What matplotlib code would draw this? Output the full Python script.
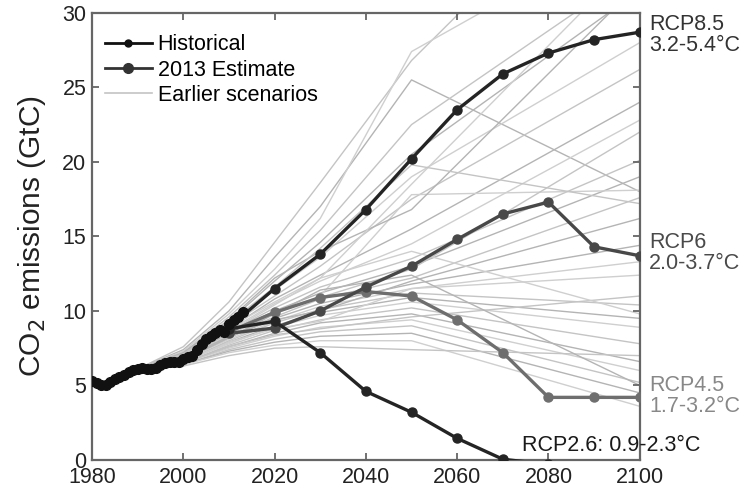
import numpy as np
import matplotlib.pyplot as plt
from matplotlib.lines import Line2D

plt.rcParams['font.family'] = ['Liberation Sans', 'DejaVu Sans']

# historical emissions, 1980-2012 (GtC)
hist_years = list(range(1980, 2013))
hist_vals = [5.3, 5.15, 5.05, 5.05, 5.25, 5.4, 5.55, 5.7, 5.9, 6.05,
             6.1, 6.15, 6.1, 6.1, 6.2, 6.35, 6.5, 6.6, 6.6, 6.6,
             6.8, 6.9, 7.0, 7.4, 7.8, 8.1, 8.3, 8.5, 8.7, 8.6,
             9.1, 9.4, 9.6]
est_year = 2013
est_val = 9.9

# RCP pathways
rcp_years = [2010, 2020, 2030, 2040, 2050, 2060, 2070, 2080, 2090, 2100]
rcp85 = [8.9, 11.5, 13.8, 16.8, 20.2, 23.5, 25.9, 27.3, 28.2, 28.7]
rcp6 = [8.5, 8.85, 10.0, 11.6, 13.0, 14.8, 16.5, 17.3, 14.3, 13.7]
rcp45 = [8.6, 9.9, 10.9, 11.3, 11.0, 9.4, 7.2, 4.2, 4.2, 4.2]
rcp26 = [8.8, 9.3, 7.2, 4.6, 3.2, 1.45, 0.05, -0.3, -0.6, -0.9]

# earlier scenarios
sc_years = [1990, 2000, 2010, 2020, 2030, 2050, 2100]
scenarios = [
    [6.1, 7.6, 10.6, 14.6, 18.6, 26.8, 42.0],
    [6.1, 7.4, 10.0, 13.6, 17.0, 25.5, 18.0],
    [6.1, 7.3, 9.8, 12.8, 16.2, 27.4, 36.0],
    [6.1, 7.2, 9.6, 12.4, 15.4, 22.5, 33.0],
    [6.1, 7.1, 9.3, 12.0, 14.6, 20.5, 31.5],
    [6.1, 7.0, 9.1, 11.4, 13.6, 19.0, 28.0],
    [6.1, 7.0, 9.0, 11.0, 13.0, 17.5, 26.2],
    [6.1, 6.9, 8.8, 10.8, 12.4, 15.5, 24.0],
    [6.1, 6.9, 8.7, 10.5, 12.0, 14.5, 22.8],
    [6.1, 6.8, 8.6, 10.2, 11.6, 13.5, 20.1],
    [6.1, 6.8, 8.5, 10.0, 11.2, 13.0, 19.0],
    [6.1, 6.8, 8.4, 9.8, 11.0, 17.8, 18.1],
    [6.1, 6.7, 8.3, 9.6, 10.8, 12.2, 17.6],
    [6.1, 6.7, 8.2, 9.5, 10.5, 11.8, 14.4],
    [6.1, 6.7, 8.1, 9.3, 10.3, 11.5, 13.3],
    [6.1, 6.6, 8.0, 9.2, 10.1, 11.2, 10.4],
    [6.1, 6.6, 7.9, 9.0, 9.9, 10.9, 9.5],
    [6.1, 6.6, 7.8, 8.9, 9.7, 10.6, 8.9],
    [6.1, 6.5, 7.7, 8.7, 9.4, 10.2, 7.8],
    [6.1, 6.5, 7.6, 8.5, 9.2, 9.8, 6.6],
    [6.1, 6.5, 7.5, 8.3, 8.9, 9.4, 6.0],
    [6.1, 6.4, 7.4, 8.1, 8.6, 9.0, 5.2],
    [6.1, 6.4, 7.3, 7.9, 8.3, 8.5, 4.5],
    [6.1, 6.4, 7.2, 7.7, 8.0, 8.0, 3.6],
    [6.1, 6.3, 7.0, 7.5, 7.6, 7.4, 7.0],
    [6.1, 7.2, 9.4, 12.2, 14.0, 16.8, 32.0],
    [6.1, 7.0, 8.9, 10.6, 12.2, 18.5, 34.0],
    [6.1, 6.9, 8.6, 9.9, 10.9, 12.8, 22.0],
    [6.1, 6.8, 8.3, 9.4, 10.0, 12.0, 16.2],
    [6.1, 6.6, 7.9, 8.8, 9.3, 11.5, 12.4],
    [6.1, 6.5, 7.6, 8.4, 8.8, 9.6, 11.0],
    [6.1, 6.7, 8.2, 9.8, 11.4, 12.4, 5.0],
    [6.1, 6.9, 8.6, 10.4, 12.2, 14.0, 9.8],
    [6.1, 7.1, 9.2, 11.6, 14.2, 19.8, 17.2],
]
sc_colors = ['#c4c4c4', '#b4b4b4', '#cfcfcf']

fig = plt.figure(figsize=(7.5, 4.93), dpi=100)
ax = fig.add_axes([0.1227, 0.067, 0.7303, 0.907])

for i, s in enumerate(scenarios):
    ax.plot(sc_years, s, color=sc_colors[i % 3], lw=1.0, zorder=1)

ax.plot(rcp_years, rcp45, color='#6e6e6e', lw=2.4, marker='o', ms=6.5, zorder=3)
ax.plot(rcp_years, rcp6, color='#484848', lw=2.4, marker='o', ms=6.5, zorder=3)
ax.plot(rcp_years, rcp26, color='#242424', lw=2.4, marker='o', ms=6.5, zorder=4)
ax.plot(rcp_years, rcp85, color='#242424', lw=2.4, marker='o', ms=6.5, zorder=4)
ax.plot(hist_years + [est_year], hist_vals + [est_val], color='#111111', lw=3,
        marker='o', ms=7, zorder=5)

ax.set_xlim(1980, 2100)
ax.set_ylim(0, 30)
ax.set_xticks(range(1980, 2101, 20))
ax.set_yticks(range(0, 31, 5))
ax.tick_params(direction='in', length=5, width=1.3, color='#666666',
               labelsize=15.5, labelcolor='#222222', top=True, right=True, pad=4)
ax.tick_params(axis='x', pad=5)
for sp in ax.spines.values():
    sp.set_color('#666666')
    sp.set_linewidth(1.6)
ax.set_ylabel('CO$_2$ emissions (GtC)', fontsize=21.5, labelpad=10, color='#222222')

labels = [
    (2102, 28.5, 'RCP8.5\n3.2-5.4°C', '#333333'),
    (2102, 13.9, 'RCP6\n2.0-3.7°C', '#4a4a4a'),
    (2102, 4.3, 'RCP4.5\n1.7-3.2°C', '#888888'),
]
for x, y, t, c in labels:
    ax.text(x, y, t, color=c, fontsize=15.5, va='center', ha='left',
            linespacing=1.0, clip_on=False)
ax.text(2074.2, 0.95, 'RCP2.6: 0.9-2.3°C', color='#1a1a1a', fontsize=15.5,
        va='center', ha='left', clip_on=False, zorder=6)

handles = [
    Line2D([], [], color='#111111', lw=2, marker='o', ms=5),
    Line2D([], [], color='#333333', lw=2, marker='o', ms=7),
    Line2D([], [], color='#c4c4c4', lw=1.2),
]
ax.legend(handles, ['Historical', '2013 Estimate', 'Earlier scenarios'],
          loc='upper left', frameon=False, fontsize=15.5, handlelength=2.2,
          handletextpad=0.25, labelspacing=0.2, borderaxespad=0.6,
          bbox_to_anchor=(-0.016, 1.0))

fig.savefig('out.png', dpi=100)
